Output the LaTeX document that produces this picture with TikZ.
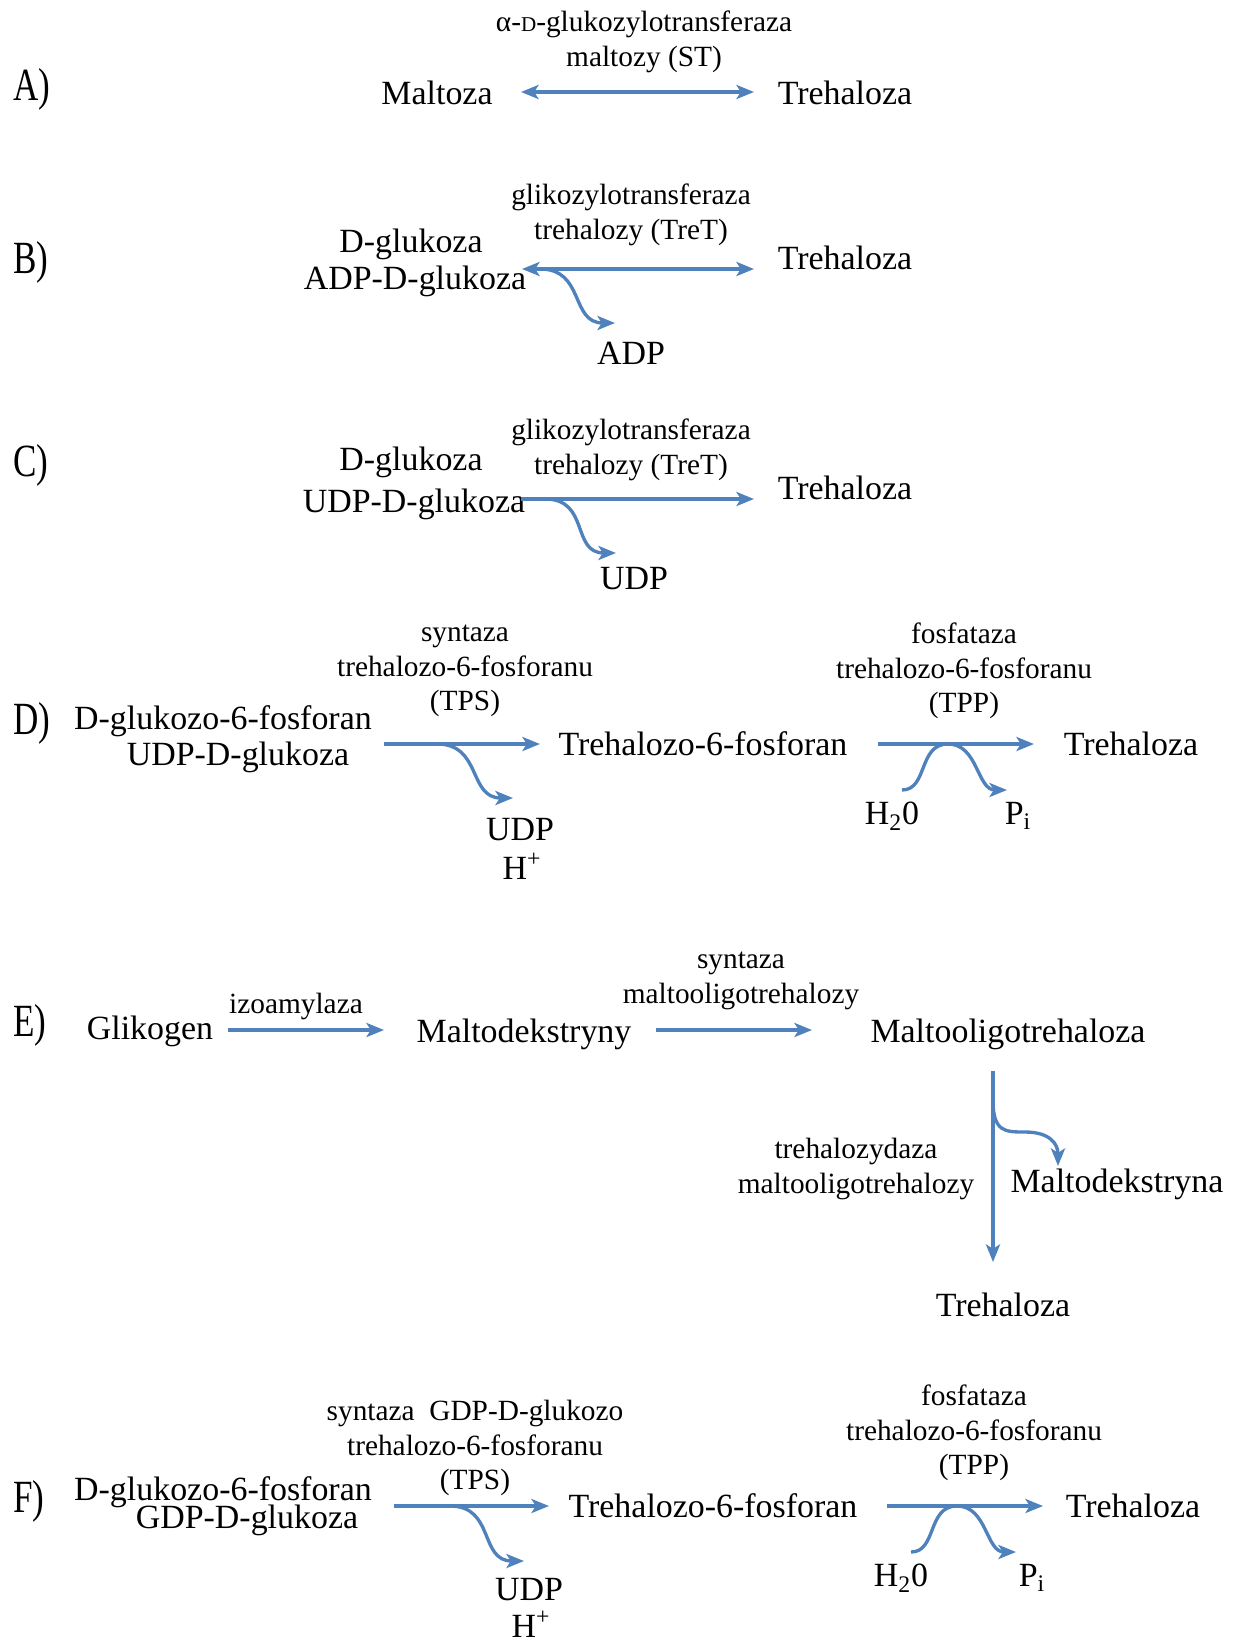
\documentclass[tikz,border=0pt]{standalone}
\usepackage{fontspec}
\setmainfont{Liberation Serif}
\usetikzlibrary{arrows.meta}
\definecolor{rxnblue}{HTML}{4F81BD}

\begin{document}
\begin{tikzpicture}[
        x=0.02cm, y=-0.02cm,
        chem/.style={inner sep=0pt, font=\fontsize{19.3}{21}\selectfont},
        enzyme/.style={inner sep=0pt, align=center, font=\fontsize{16.7}{19.6}\selectfont},
        panel/.style={inner sep=0pt, anchor=west, font=\fontsize{21}{24}\selectfont},
        rxn/.style={-{Stealth[length=10pt, width=8pt, inset=2.5pt]}, draw=rxnblue, line width=1.9pt},
        rev/.style={{Stealth[length=10pt, width=8pt, inset=2.5pt]}-{Stealth[length=10pt, width=8pt, inset=2.5pt]}, draw=rxnblue, line width=1.9pt}
    ]
        \useasboundingbox (0,0) rectangle (1232,1643);

        % A) Nodes
        \node[panel] (pA) at (13,89) {\scalebox{0.95}[1.25]{A)}};
        \node[chem] (maltA) at (437,93) {Maltoza};
        \node[chem] (treA) at (845,93) {Trehaloza};
        \node[enzyme] (stA) at (644,42) {α-{\fontsize{12}{12}\selectfont D}-glukozylotransferaza\\maltozy (ST)};
        \coordinate (aL) at (521,92);
        \coordinate (aR) at (754,92);

        % B) Nodes
        \node[panel] (pB) at (13,262) {\scalebox{0.95}[1.25]{B)}};
        \node[chem] (glcB) at (411,244) {D-glukoza};
        \node[chem] (adpglcB) at (415,281) {ADP-D-glukoza};
        \node[chem] (treB) at (845,258) {Trehaloza};
        \node[chem] (adpB) at (631,353) {ADP};
        \node[enzyme] (tretB) at (631,215) {glikozylotransferaza\\trehalozy (TreT)};
        \coordinate (bL) at (522,269);
        \coordinate (bR) at (754,269);
        \coordinate (bS) at (540,269);
        \coordinate (bE) at (615,323);

        % C) Nodes
        \node[panel] (pC) at (13,465) {\scalebox{0.95}[1.25]{C)}};
        \node[chem] (glcC) at (411,462) {D-glukoza};
        \node[chem] (udpglcC) at (414,504) {UDP-D-glukoza};
        \node[chem] (treC) at (845,488) {Trehaloza};
        \node[chem] (udpC) at (634,579) {UDP};
        \node[enzyme] (tretC) at (631,450) {glikozylotransferaza\\trehalozy (TreT)};
        \coordinate (cL) at (521,499);
        \coordinate (cR) at (754,499);
        \coordinate (cS) at (545,499);
        \coordinate (cE) at (616,553);

        % D) Nodes
        \node[panel] (pD) at (13,723) {\scalebox{0.95}[1.25]{D)}};
        \node[chem] (g6pD) at (223,721) {D-glukozo-6-fosforan};
        \node[chem] (udpglcD) at (238,757) {UDP-D-glukoza};
        \node[chem] (t6pD) at (703,744) {Trehalozo-6-fosforan};
        \node[chem] (treD) at (1131,744) {Trehaloza};
        \node[chem] (udpD) at (520,830) {UDP};
        \node[chem] (hD) at (522,866) {H\textsuperscript{+}};
        \node[chem] (h2oD) at (892,816) {H\textsubscript{2}0};
        \node[chem] (piD) at (1018,816) {P\textsubscript{i}};
        \node[enzyme] (tpsD) at (465,671) {syntaza\\trehalozo-6-fosforanu\\(TPS)};
        \node[enzyme] (tppD) at (964,671) {fosfataza\\trehalozo-6-fosforanu\\(TPP)};
        \coordinate (dL) at (384,744);
        \coordinate (dM) at (540,744);
        \coordinate (dS) at (437,744);
        \coordinate (dE) at (513,798);
        \coordinate (dN) at (878,744);
        \coordinate (dR) at (1034,744);
        \coordinate (dW) at (902,790);
        \coordinate (dT) at (948,744);
        \coordinate (dP) at (1007,790);

        % E) Nodes
        \node[panel] (pE) at (13,1025) {\scalebox{0.95}[1.25]{E)}};
        \node[chem] (glyE) at (150,1031) {Glikogen};
        \node[chem] (mdE) at (524,1034) {Maltodekstryny};
        \node[chem] (motE) at (1008,1034) {Maltooligotrehaloza};
        \node[chem] (mdnaE) at (1117,1184) {Maltodekstryna};
        \node[chem] (treE) at (1003,1305) {Trehaloza};
        \node[enzyme] (izoE) at (296,1006) {izoamylaza};
        \node[enzyme] (mtsE) at (741,981) {syntaza\\maltooligotrehalozy};
        \node[enzyme] (mthE) at (856,1169) {trehalozydaza\\maltooligotrehalozy};
        \coordinate (eA) at (228,1030);
        \coordinate (eB) at (384,1030);
        \coordinate (eC) at (656,1030);
        \coordinate (eD) at (812,1030);
        \coordinate (eTop) at (993,1071);
        \coordinate (eBot) at (993,1262);
        \coordinate (eS) at (993,1100);
        \coordinate (eK) at (1025,1132);
        \coordinate (eE) at (1058,1166);

        % F) Nodes
        \node[panel] (pF) at (13,1501) {\scalebox{0.95}[1.25]{F)}};
        \node[chem] (g6pF) at (223,1492) {D-glukozo-6-fosforan};
        \node[chem] (gdpglcF) at (247,1520) {GDP-D-glukoza};
        \node[chem] (t6pF) at (713,1506) {Trehalozo-6-fosforan};
        \node[chem] (treF) at (1133,1506) {Trehaloza};
        \node[chem] (udpF) at (529,1590) {UDP};
        \node[chem] (hF) at (531,1624) {H\textsuperscript{+}};
        \node[chem] (h2oF) at (901,1578) {H\textsubscript{2}0};
        \node[chem] (piF) at (1032,1578) {P\textsubscript{i}};
        \node[enzyme] (tpsF) at (475,1448) {syntaza\ \ GDP-D-glukozo\\trehalozo-6-fosforanu\\(TPS)};
        \node[enzyme] (tppF) at (974,1433) {fosfataza\\trehalozo-6-fosforanu\\(TPP)};
        \coordinate (fL) at (394,1506);
        \coordinate (fM) at (549,1506);
        \coordinate (fS) at (450,1506);
        \coordinate (fE) at (524,1561);
        \coordinate (fN) at (887,1506);
        \coordinate (fR) at (1043,1506);
        \coordinate (fW) at (911,1552);
        \coordinate (fT) at (957,1506);
        \coordinate (fP) at (1016,1552);

        % Paths
        \draw[rev] (aL) -- (aR);

        \draw[rev] (bL) -- (bR);
        \draw[rxn] (bS) .. controls ++(45,0) and ++(-45,0) .. (bE);

        \draw[rxn] (cL) -- (cR);
        \draw[rxn] (cS) .. controls ++(45,0) and ++(-45,0) .. (cE);

        \draw[rxn] (dL) -- (dM);
        \draw[rxn] (dS) .. controls ++(45,0) and ++(-45,0) .. (dE);
        \draw[rxn] (dN) -- (dR);
        \draw[rxn] (dW) .. controls ++(26,0) and ++(-30,0) .. (dT) .. controls ++(30,0) and ++(-30,0) .. (dP);

        \draw[rxn] (eA) -- (eB);
        \draw[rxn] (eC) -- (eD);
        \draw[rxn] (eTop) -- (eBot);
        \draw[rxn] (eS) .. controls ++(0,32) and ++(-20,0) .. (eK) .. controls ++(25,0) and ++(0,-22) .. (eE);

        \draw[rxn] (fL) -- (fM);
        \draw[rxn] (fS) .. controls ++(45,0) and ++(-45,0) .. (fE);
        \draw[rxn] (fN) -- (fR);
        \draw[rxn] (fW) .. controls ++(26,0) and ++(-30,0) .. (fT) .. controls ++(30,0) and ++(-30,0) .. (fP);

    \end{tikzpicture}
\end{document}
